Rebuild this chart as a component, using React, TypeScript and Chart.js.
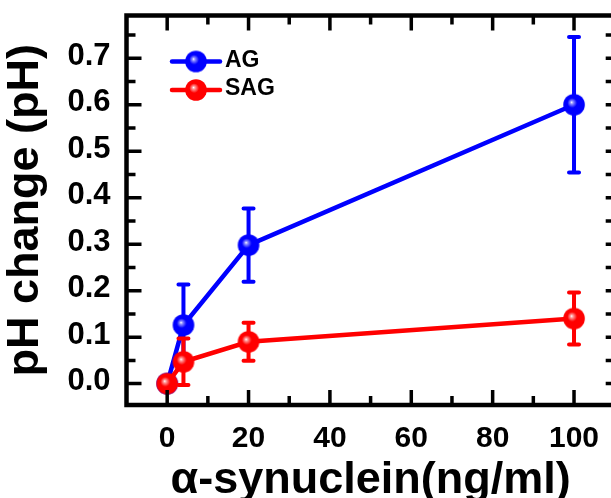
import React, { useEffect, useRef } from "react";
import { Chart, registerables } from "chart.js";

Chart.register(...registerables);

// ---- data ----
const concentrations = [0, 4, 20, 100];
const agValues = [0, 0.126, 0.298, 0.6];
const agErrors = [0, 0.087, 0.079, 0.146];
const sagValues = [0, 0.047, 0.09, 0.14];
const sagErrors = [0, 0.05, 0.041, 0.056];
const xTickValues = [0, 20, 40, 60, 80, 100];
const yTickValues = [0, 0.1, 0.2, 0.3, 0.4, 0.5, 0.6, 0.7];
const seriesNames = ["AG", "SAG"];
const xTitle = "α-synuclein(ng/ml)";
const yTitle = "pH change (pH)";

const FONT = "'Liberation Sans', Arial, sans-serif";
const BLUE = "#0000ff";
const RED = "#ff0000";

function makeSphere(color: string, light: string, r: number): HTMLCanvasElement {
  const size = Math.ceil(r * 2) + 2;
  const c = document.createElement("canvas");
  c.width = size;
  c.height = size;
  const ctx = c.getContext("2d")!;
  const cx = size / 2;
  const cy = size / 2;
  const g = ctx.createRadialGradient(cx - 2.5, cy - 2.5, 0, cx - 1, cy - 1, r);
  g.addColorStop(0, "#ffffff");
  g.addColorStop(0.14, light);
  g.addColorStop(0.45, color);
  g.addColorStop(1, color);
  ctx.fillStyle = g;
  ctx.beginPath();
  ctx.arc(cx, cy, r, 0, Math.PI * 2);
  ctx.fill();
  return c;
}

export default function App() {
  const ref = useRef<HTMLCanvasElement | null>(null);

  useEffect(() => {
    if (!ref.current) return;
    const blueSphere = makeSphere(BLUE, "#9090ff", 10.8);
    const redSphere = makeSphere(RED, "#ff9a9a", 10.8);
    const errorMap: Record<string, number[]> = { AG: agErrors, SAG: sagErrors };

    const errorBars = {
      id: "errorBars",
      beforeDatasetDraw(chart: any, args: any) {
        const ds = chart.data.datasets[args.index];
        const errs = errorMap[ds.label];
        if (!errs) return;
        const ys = chart.scales.y;
        const ctx = chart.ctx;
        ctx.save();
        ctx.strokeStyle = ds.borderColor;
        ctx.lineWidth = 4;
        ctx.lineCap = "round";
        args.meta.data.forEach((pt: any, i: number) => {
          const e = errs[i];
          if (!e) return;
          const v = ds.data[i].y;
          const yt = ys.getPixelForValue(v + e);
          const yb = ys.getPixelForValue(v - e);
          ctx.beginPath();
          ctx.moveTo(pt.x, yt);
          ctx.lineTo(pt.x, yb);
          ctx.moveTo(pt.x - 5, yt);
          ctx.lineTo(pt.x + 5, yt);
          ctx.moveTo(pt.x - 5, yb);
          ctx.lineTo(pt.x + 5, yb);
          ctx.stroke();
        });
        ctx.restore();
      },
    };

    const frame = {
      id: "frame",
      afterDraw(chart: any) {
        const ctx = chart.ctx;
        const a = chart.chartArea;
        const xs = chart.scales.x;
        const ys = chart.scales.y;
        ctx.save();
        // ticks
        ctx.strokeStyle = "#000";
        ctx.lineWidth = 3.5;
        ctx.lineCap = "butt";
        for (let v = 10 * Math.ceil(xs.min / 10); v <= xs.max; v += 10) {
          if (v <= xs.min || v >= xs.max) continue;
          const px = xs.getPixelForValue(v);
          const len = v % 20 === 0 ? 15 : 9;
          ctx.beginPath();
          ctx.moveTo(px, a.top);
          ctx.lineTo(px, a.top + len);
          ctx.moveTo(px, a.bottom);
          ctx.lineTo(px, a.bottom - len);
          ctx.stroke();
        }
        for (let k = -1; k <= 16; k++) {
          const v = k * 0.05;
          if (v <= ys.min || v >= ys.max) continue;
          const py = ys.getPixelForValue(v);
          const len = k % 2 === 0 ? 15 : 9;
          ctx.beginPath();
          ctx.moveTo(a.left, py);
          ctx.lineTo(a.left + len, py);
          ctx.moveTo(a.right, py);
          ctx.lineTo(a.right - 9, py);
          ctx.stroke();
        }
        // box
        ctx.lineWidth = 4.5;
        ctx.strokeRect(a.left, a.top, a.right - a.left, a.bottom - a.top);

        // legend
        const spheres = [blueSphere, redSphere];
        const colors = [BLUE, RED];
        seriesNames.forEach((name, i) => {
          const y = a.top + 46 + i * 28.5;
          const x0 = a.left + 45.5;
          ctx.strokeStyle = colors[i];
          ctx.lineWidth = 4.5;
          ctx.lineCap = "round";
          ctx.beginPath();
          ctx.moveTo(x0, y);
          ctx.lineTo(x0 + 48, y);
          ctx.stroke();
          const s = spheres[i];
          ctx.drawImage(s, x0 + 24 - s.width / 2, y - s.height / 2);
          ctx.fillStyle = "#000";
          ctx.font = `bold 23px ${FONT}`;
          ctx.textAlign = "left";
          ctx.textBaseline = "middle";
          ctx.fillText(name, x0 + 53, y - 1);
        });

        // axis titles
        ctx.fillStyle = "#000";
        ctx.font = `bold 45px ${FONT}`;
        ctx.textAlign = "center";
        ctx.textBaseline = "alphabetic";
        ctx.fillText(xTitle, (a.left + a.right) / 2, 493);
        ctx.translate(38, (a.top + a.bottom) / 2);
        ctx.rotate(-Math.PI / 2);
        ctx.fillText(yTitle, 0, 0);
        ctx.restore();
      },
    };

    const chart = new Chart(ref.current, {
      type: "line",
      data: {
        datasets: [
          {
            label: "SAG",
            data: concentrations.map((x, i) => ({ x, y: sagValues[i] })),
            borderColor: RED,
            backgroundColor: RED,
            borderWidth: 4.5,
            pointStyle: redSphere as any,
            pointRadius: 10,
            tension: 0,
            order: 0,
          },
          {
            label: "AG",
            data: concentrations.map((x, i) => ({ x, y: agValues[i] })),
            borderColor: BLUE,
            backgroundColor: BLUE,
            borderWidth: 4.5,
            pointStyle: blueSphere as any,
            pointRadius: 10,
            tension: 0,
            order: 1,
          },
        ],
      },
      options: {
        responsive: false,
        animation: false,
        devicePixelRatio: 1,
        layout: { padding: { top: 15.5, right: 15.3, left: 0, bottom: 0 } },
        plugins: { legend: { display: false }, tooltip: { enabled: false } },
        scales: {
          x: {
            type: "linear",
            min: -10,
            max: 110,
            grid: { display: false, drawTicks: false, tickLength: 0 },
            border: { display: false },
            ticks: {
              color: "#000",
              font: { family: FONT, size: 30, weight: "bold" },
              padding: 16,
              maxRotation: 0,
              callback: (v: any) => String(v),
            },
            afterBuildTicks: (s: any) => {
              s.ticks = xTickValues.map((v) => ({ value: v }));
            },
            afterFit: (s: any) => {
              s.height = 93;
              s.paddingLeft = 0;
              s.paddingRight = 0;
              s.paddingTop = 0;
              s.paddingBottom = 0;
            },
          },
          y: {
            type: "linear",
            min: -0.046,
            max: 0.792,
            grid: { display: false, drawTicks: false, tickLength: 0 },
            border: { display: false },
            ticks: {
              color: "#000",
              font: { family: FONT, size: 31, weight: "bold" },
              padding: 16,
              labelOffset: -2,
              callback: (v: any) => Number(v).toFixed(1),
            },
            afterBuildTicks: (s: any) => {
              s.ticks = yTickValues.map((v) => ({ value: v }));
            },
            afterFit: (s: any) => {
              s.width = 126.5;
              s.paddingLeft = 0;
              s.paddingRight = 0;
              s.paddingTop = 0;
              s.paddingBottom = 0;
            },
          },
        },
      } as any,
      plugins: [errorBars, frame],
    });
    return () => chart.destroy();
  }, []);

  return (
    <div
      style={{
        position: "fixed",
        left: 0,
        top: 0,
        width: 611,
        height: 498,
        overflow: "hidden",
        background: "#fff",
      }}
    >
      <canvas ref={ref} width={630} height={498} style={{ display: "block", width: 630, height: 498 }} />
    </div>
  );
}
